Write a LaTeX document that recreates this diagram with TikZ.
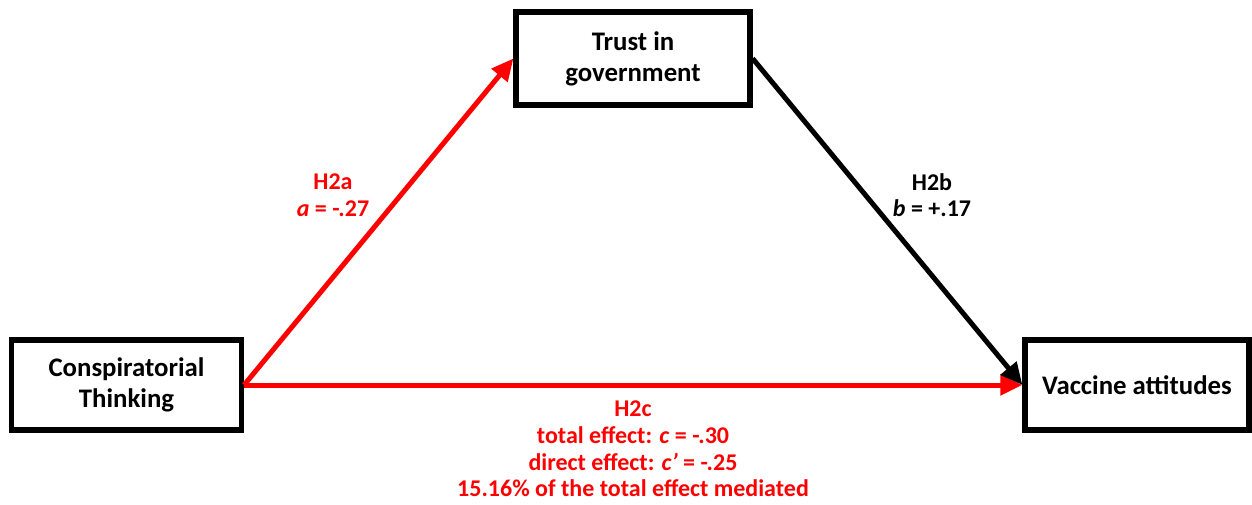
\documentclass[tikz,border=0pt]{standalone}
\usepackage{fontspec}
\setmainfont{Carlito}
\usetikzlibrary{arrows.meta}
\definecolor{hred}{RGB}{255,0,0}
\tikzset{
  box/.style={draw,line width=2.6pt,minimum width=#1,minimum height=45pt,
    align=center,font=\bfseries\fontsize{13.4}{15.5}\selectfont},
  lab/.style={align=center,font=\bfseries\fontsize{12}{13.3}\selectfont},
  link/.style={line width=2.5pt,-{Triangle[length=11pt,width=10pt]}}
}
\begin{document}
\begin{tikzpicture}[x=0.5pt,y=-0.5pt]
    \useasboundingbox (0,0) rectangle (1252,504);
    \node[box=117pt,minimum height=46.5pt] (trust) at (633,58.5) {Trust in\\government};
    \node[box=115pt] (consp) at (126.5,385) {Conspiratorial\\Thinking};
    \node[box=112pt] (vacc) at (1137,385) {Vaccine attitudes};
    \node[lab,text=hred] (h2a) at (333,195) {H2a\\\textit{a} = -.27};
    \node[lab] (h2b) at (932,195) {H2b\\\textit{b} = +.17};
    \node[lab,text=hred] (h2c) at (633,449) {H2c\\total effect: \textit{c} = -.30\\direct effect: \textit{c’} = -.25\\15.16\% of the total effect mediated};
    \draw[link,hred] (consp.east) -- (trust.west);
    \draw[link,hred] (consp.east) -- (vacc.west);
    \draw[link] (trust.east) -- (vacc.west);
  \end{tikzpicture}
\end{document}
